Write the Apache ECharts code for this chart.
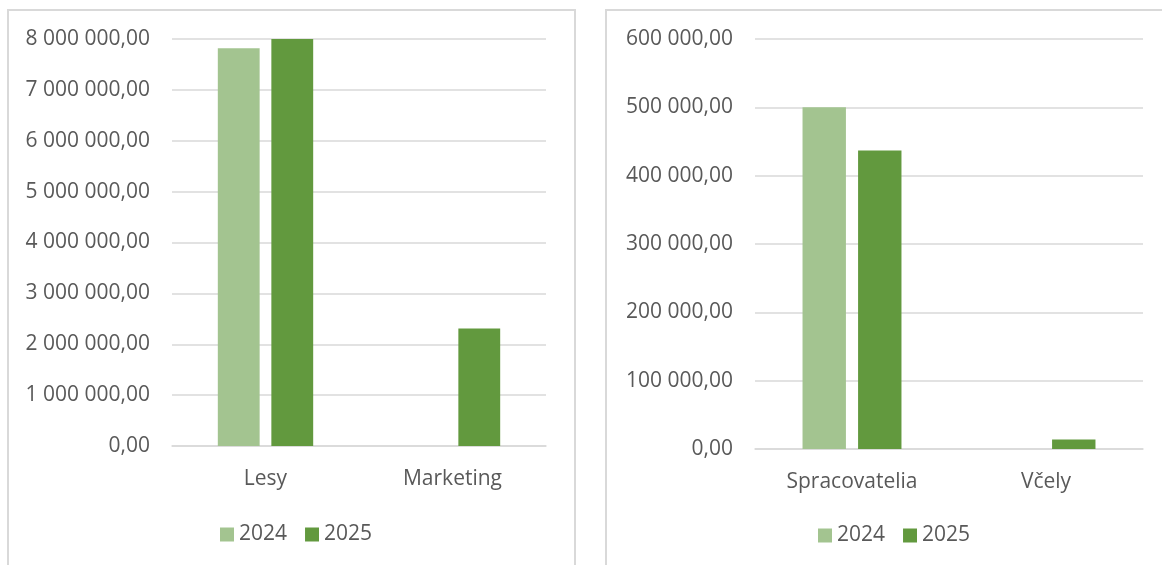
<!DOCTYPE html>
<html>
<head>
<meta charset="utf-8">
<script src="https://cdn.jsdelivr.net/npm/echarts@6/dist/echarts.min.js"></script>
<style>
html,body{margin:0;padding:0;background:#fff;}
#c{width:1162px;height:565px;}
</style>
</head>
<body>
<div id="c"></div>
<script>
const seriesNames = ['2024', '2025'];
const leftCategories = ['Lesy', 'Marketing'];
const leftValues2024 = [7820000, 0];
const leftValues2025 = [8000000, 2310000];
const rightCategories = ['Spracovatelia', 'Včely'];
const rightValues2024 = [500000, 0];
const rightValues2025 = [437000, 14000];
const leftAxis = {min: 0, max: 8000000, interval: 1000000};
const rightAxis = {min: 0, max: 600000, interval: 100000};

const colors = ['#A3C490', '#62993E'];
const txt = '#595959';
const grid = '#D9D9D9';
const font = 'Open Sans';
const fs = 21;

function fmt(v){
  const p = Number(v).toFixed(2).split('.');
  return p[0].replace(/\B(?=(\d{3})+(?!\d))/g, ' ') + ',' + p[1];
}

function xAxis(idx, cats){
  return {
    type: 'category', gridIndex: idx, data: cats,
    axisLine: {lineStyle: {color: grid, width: 1.5}},
    axisTick: {show: false},
    axisLabel: {color: txt, fontFamily: font, fontSize: fs, margin: 23}
  };
}
function yAxis(idx, cfg){
  return {
    type: 'value', gridIndex: idx, min: cfg.min, max: cfg.max, interval: cfg.interval,
    axisLine: {show: false}, axisTick: {show: false},
    splitLine: {lineStyle: {color: grid, width: 1.5}},
    axisLabel: {color: txt, fontFamily: font, fontSize: fs, margin: 22, formatter: fmt}
  };
}
function bar(name, x, y, data, color){
  return {
    type: 'bar', name: name, xAxisIndex: x, yAxisIndex: y, data: data,
    barGap: '28%', barCategoryGap: '49%',
    itemStyle: {color: color}, animation: false
  };
}
function legend(left, top){
  return {
    data: seriesNames, left: left, top: top, itemWidth: 14, itemHeight: 14, itemGap: 18,
    icon: 'rect', textStyle: {color: txt, fontFamily: font, fontSize: fs},
    selectedMode: false
  };
}

const chart = echarts.init(document.getElementById('c'), null, {renderer: 'canvas'});
chart.setOption({
  backgroundColor: '#fff',
  animation: false,
  graphic: [
    {type: 'rect', shape: {x: 8, y: 10, width: 567, height: 620}, style: {fill: 'none', stroke: grid, lineWidth: 2}},
    {type: 'rect', shape: {x: 606, y: 10, width: 620, height: 620}, style: {fill: 'none', stroke: grid, lineWidth: 2}}
  ],
  grid: [
    {left: 172, right: 616, top: 39, bottom: 119},
    {left: 755, right: 19, top: 39, bottom: 116}
  ],
  xAxis: [xAxis(0, leftCategories), xAxis(1, rightCategories)],
  yAxis: [yAxis(0, leftAxis), yAxis(1, rightAxis)],
  legend: [legend(215, 519), legend(813, 520)],
  series: [
    bar(seriesNames[0], 0, 0, leftValues2024, colors[0]),
    bar(seriesNames[1], 0, 0, leftValues2025, colors[1]),
    bar(seriesNames[0], 1, 1, rightValues2024, colors[0]),
    bar(seriesNames[1], 1, 1, rightValues2025, colors[1])
  ]
});
</script>
</body>
</html>
